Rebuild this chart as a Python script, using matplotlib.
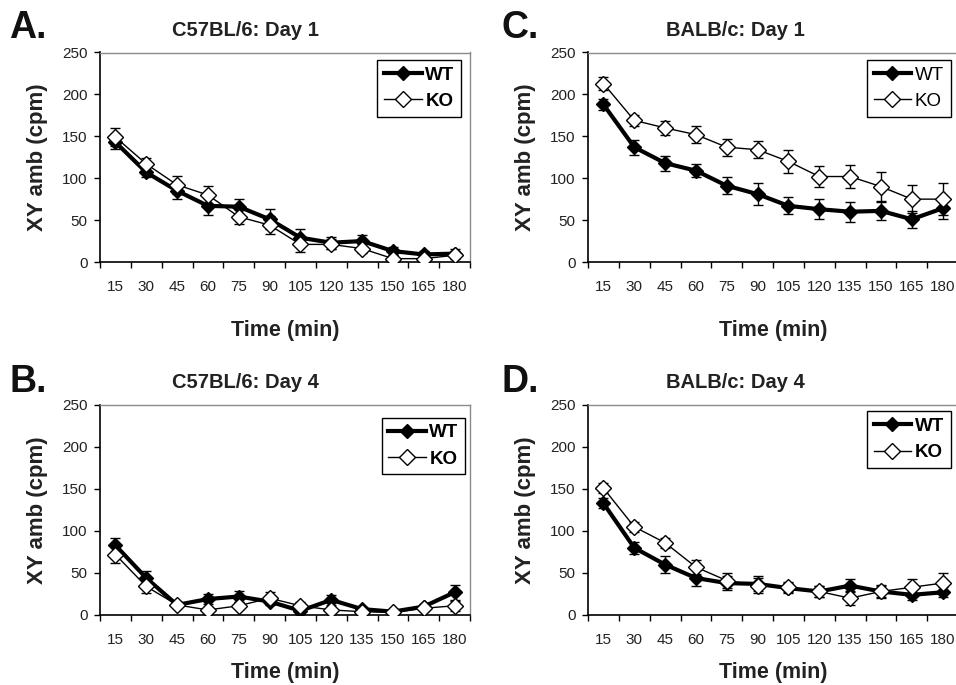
import matplotlib
matplotlib.use("Agg")
import matplotlib.pyplot as plt
from matplotlib.lines import Line2D
import numpy as np

plt.rcParams['font.family'] = ['Liberation Sans', 'DejaVu Sans']

times = ["15", "30", "45", "60", "75", "90", "105", "120", "135", "150", "165", "180"]

# Panel A: C57BL/6 Day 1
a_wt = [143, 107, 85, 67, 66, 51, 29, 23, 25, 13, 9, 10]
a_wt_err = [8, 6, 10, 11, 9, 12, 10, 7, 7, 5, 4, 5]
a_ko = [149, 117, 92, 80, 54, 44, 21, 21, 16, 4, 4, 8]
a_ko_err = [11, 7, 11, 11, 9, 11, 9, 6, 5, 4, 3, 5]

# Panel B: C57BL/6 Day 4
b_wt = [83, 44, 12, 19, 22, 16, 5, 18, 7, 4, 10, 27]
b_wt_err = [9, 8, 3, 6, 6, 4, 4, 6, 3, 2, 3, 9]
b_ko = [72, 34, 12, 6, 11, 20, 11, 6, 4, 3, 8, 11]
b_ko_err = [10, 8, 4, 4, 4, 7, 4, 4, 2, 2, 3, 6]

# Panel C: BALB/c Day 1
c_wt = [188, 137, 118, 109, 91, 81, 67, 63, 60, 61, 51, 64]
c_wt_err = [7, 9, 9, 8, 10, 13, 10, 12, 12, 11, 10, 13]
c_ko = [213, 169, 160, 152, 137, 134, 120, 102, 102, 90, 75, 75]
c_ko_err = [8, 7, 8, 10, 10, 10, 14, 12, 14, 17, 17, 19]

# Panel D: BALB/c Day 4
d_wt = [133, 80, 60, 44, 38, 37, 32, 28, 35, 28, 24, 27]
d_wt_err = [6, 7, 10, 9, 8, 9, 6, 6, 8, 6, 6, 6]
d_ko = [151, 105, 86, 57, 41, 35, 33, 28, 20, 28, 33, 38]
d_ko_err = [6, 6, 6, 8, 9, 9, 6, 6, 8, 8, 10, 12]

W, H = 956, 685
fig = plt.figure(figsize=(W / 100, H / 100), dpi=100)


def ax_at(left, right, top, bottom):
    return fig.add_axes([left / W, 1 - bottom / H, (right - left) / W, (bottom - top) / H])


panels = [
    dict(rect=(100, 470, 52.5, 262), letter="A.", title="C57BL/6: Day 1",
         wt=a_wt, wte=a_wt_err, ko=a_ko, koe=a_ko_err, bold_leg=True,
         lx=9, ly=28, tx=245, ty=31, legb=(0.976, 0.965), xlp=19),
    dict(rect=(588, 958, 52.5, 262), letter="C.", title="BALB/c: Day 1",
         wt=c_wt, wte=c_wt_err, ko=c_ko, koe=c_ko_err, bold_leg=False,
         lx=502, ly=28, tx=735, ty=31, legb=(0.98, 0.965), xlp=19),
    dict(rect=(100, 470, 405, 615), letter="B.", title="C57BL/6: Day 4",
         wt=b_wt, wte=b_wt_err, ko=b_ko, koe=b_ko_err, bold_leg=True,
         lx=9, ly=382, tx=245, ty=382, legb=(0.987, 0.94), xlp=11),
    dict(rect=(588, 958, 405, 615), letter="D.", title="BALB/c: Day 4",
         wt=d_wt, wte=d_wt_err, ko=d_ko, koe=d_ko_err, bold_leg=True,
         lx=502, ly=382, tx=735, ty=382, legb=(0.98, 0.97), xlp=11),
]

x = np.arange(len(times))

for p in panels:
    l, r, t, b = p["rect"]
    ax = ax_at(l, r, t, b)
    ax.errorbar(x, p["wt"], yerr=p["wte"], color="black", lw=3.0, marker="D",
                markersize=7.5, markerfacecolor="black", markeredgecolor="black",
                ecolor="black", elinewidth=1.0, capsize=3.5, capthick=1.0, zorder=3)
    ax.errorbar(x, p["ko"], yerr=p["koe"], color="black", lw=1.0, marker="D",
                markersize=8.5, markerfacecolor="white", markeredgecolor="black",
                markeredgewidth=1.0, ecolor="black", elinewidth=1.0, capsize=3.5,
                capthick=1.0, zorder=4)
    ax.set_xlim(-0.5, len(times) - 0.5)
    ax.set_ylim(0, 250)
    ax.set_yticks([0, 50, 100, 150, 200, 250])
    ax.set_xticks(np.arange(-0.5, len(times), 1.0))
    ax.set_xticklabels([])
    ax.set_xticks(x, minor=True)
    ax.set_xticklabels(times, minor=True)
    ax.tick_params(axis="x", which="major", direction="out", length=4, width=1, color="black")
    ax.tick_params(axis="x", which="minor", length=0, pad=13, labelsize=11, labelcolor="#222222")
    ax.tick_params(axis="y", direction="out", length=4, width=1, pad=5, labelsize=11,
                   labelcolor="#222222")
    for s in ["left", "bottom"]:
        ax.spines[s].set_color("black")
        ax.spines[s].set_linewidth(1.2)
    for s in ["top", "right"]:
        ax.spines[s].set_color("#8a8a8a")
        ax.spines[s].set_linewidth(1.0)
    ax.set_xlabel("Time (min)", fontsize=15.5, fontweight="bold", color="#222222",
                  labelpad=p["xlp"])
    ax.set_ylabel("XY amb (cpm)", fontsize=16, fontweight="bold", color="#222222", labelpad=10)
    handles = [
        Line2D([], [], color="black", lw=3.0, marker="D", markersize=7.5,
               markerfacecolor="black", markeredgecolor="black"),
        Line2D([], [], color="black", lw=1.0, marker="D", markersize=8.5,
               markerfacecolor="white", markeredgecolor="black"),
    ]
    leg = ax.legend(handles, ["WT", "KO"], loc="upper right", bbox_to_anchor=p["legb"],
                    borderaxespad=0, frameon=True, fancybox=False, edgecolor="black",
                    framealpha=1,
                    prop=dict(size=13.5, weight="bold" if p["bold_leg"] else "normal"),
                    handlelength=2.0, handletextpad=0.2, labelspacing=0.5,
                    borderpad=0.35)
    leg.get_frame().set_linewidth(1.0)
    fig.text(p["lx"] / W, 1 - p["ly"] / H, p["letter"], fontsize=27, fontweight="bold",
             ha="left", va="center", color="#111111")
    fig.text(p["tx"] / W, 1 - p["ty"] / H, p["title"], fontsize=14.5, fontweight="bold",
             ha="center", va="center", color="#222222")

fig.savefig("out.png", dpi=100)
